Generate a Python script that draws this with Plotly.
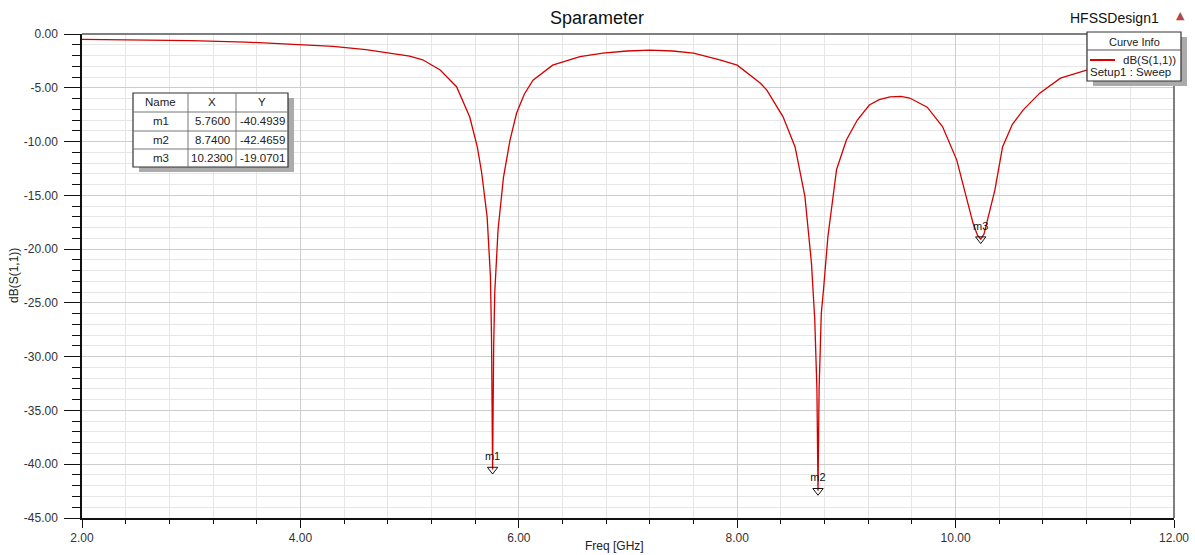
import plotly.graph_objects as go

# ---------------- data ----------------
freq_ghz = [2.00, 2.50, 3.00, 3.50, 4.00, 4.30, 4.60, 4.73, 5.00, 5.12, 5.28, 5.43, 5.55, 5.62,
            5.66, 5.71, 5.74, 5.75, 5.76, 5.77, 5.78, 5.81, 5.86, 5.92, 5.98, 6.05, 6.13, 6.31,
            6.56, 6.77, 6.99, 7.20, 7.41, 7.60, 7.84, 8.00, 8.21, 8.27, 8.42, 8.53, 8.62, 8.68,
            8.71, 8.73, 8.74, 8.75, 8.77, 8.79, 8.83, 8.91, 9.00, 9.10, 9.21, 9.30, 9.40, 9.50,
            9.58, 9.74, 9.88, 10.01, 10.10, 10.16, 10.20, 10.23, 10.26, 10.29, 10.36, 10.43,
            10.52, 10.62, 10.77, 10.96, 11.20, 11.50, 11.80, 12.00]
s11_db = [-0.50, -0.55, -0.62, -0.75, -0.96, -1.15, -1.45, -1.64, -2.05, -2.40, -3.35, -4.90, -7.70, -10.5,
          -12.9, -17.0, -22.5, -28.0, -40.4939, -29.0, -24.0, -18.2, -13.3, -9.85, -7.35, -5.60, -4.30, -2.90,
          -2.10, -1.77, -1.58, -1.49, -1.58, -1.77, -2.40, -2.90, -4.55, -5.20, -7.70, -10.5, -15.1, -21.3,
          -26.5, -33.0, -42.4659, -33.0, -26.0, -23.8, -18.9, -12.6, -9.85, -8.00, -6.60, -6.10, -5.85, -5.80,
          -5.95, -6.80, -8.60, -11.7, -15.1, -17.6, -18.7, -19.0701, -18.6, -17.3, -14.5, -10.5,
          -8.40, -7.05, -5.50, -4.10, -3.35, -2.90, -2.60, -2.50]

marker_names = ["m1", "m2", "m3"]
marker_x = [5.7600, 8.7400, 10.2300]
marker_y = [-40.4939, -42.4659, -19.0701]

x_ticks = [2, 4, 6, 8, 10, 12]
x_ticklabels = ["2.00", "4.00", "6.00", "8.00", "10.00", "12.00"]
y_ticks = [0, -5, -10, -15, -20, -25, -30, -35, -40, -45]
y_ticklabels = ["0.00", "-5.00", "-10.00", "-15.00", "-20.00", "-25.00", "-30.00", "-35.00", "-40.00", "-45.00"]

# ---------------- layout helpers ----------------
W, H = 1195, 555
ML, MR, MT, MB = 82, 21, 34, 37
PW, PH = W - ML - MR, H - MT - MB
FONT = "Liberation Sans, Arial, sans-serif"


def px(p):
    return (p - ML) / PW


def py(p):
    return (H - MB - p) / PH


fig = go.Figure()
fig.add_trace(go.Scatter(x=freq_ghz, y=s11_db, mode="lines",
                         line=dict(color="#d40000", width=1.3), showlegend=False,
                         hoverinfo="skip"))
fig.add_trace(go.Scatter(x=marker_x, y=marker_y, mode="markers+text",
                         text=marker_names, textposition="top center",
                         textfont=dict(family=FONT, size=11, color="#111"),
                         marker=dict(symbol="triangle-down-open", size=9,
                                     color="#111", line=dict(width=1, color="#111")),
                         showlegend=False, hoverinfo="skip"))

shapes = []
annotations = []

# plot frame top/right
shapes.append(dict(type="line", xref="paper", yref="paper", x0=0, x1=1, y0=1, y1=1,
                   line=dict(color="#555", width=1.5)))
shapes.append(dict(type="line", xref="paper", yref="paper", x0=1, x1=1, y0=0, y1=1,
                   line=dict(color="#555", width=1.5)))

# ---------------- marker table ----------------
col_edges = [133, 188, 236, 288]
row_edges = [93, 112, 131, 149, 167]
shapes.append(dict(type="rect", xref="paper", yref="paper",
                   x0=px(col_edges[0] + 6), x1=px(col_edges[-1] + 6),
                   y0=py(row_edges[0] + 5), y1=py(row_edges[-1] + 5),
                   fillcolor="#ababab", line=dict(width=0)))
shapes.append(dict(type="rect", xref="paper", yref="paper",
                   x0=px(col_edges[0]), x1=px(col_edges[-1]),
                   y0=py(row_edges[0]), y1=py(row_edges[-1]),
                   fillcolor="white", line=dict(color="#333", width=1.2)))
for c in col_edges[1:-1]:
    shapes.append(dict(type="line", xref="paper", yref="paper", x0=px(c), x1=px(c),
                       y0=py(row_edges[0]), y1=py(row_edges[-1]),
                       line=dict(color="#777", width=1)))
for r in row_edges[1:-1]:
    shapes.append(dict(type="line", xref="paper", yref="paper", x0=px(col_edges[0]), x1=px(col_edges[-1]),
                       y0=py(r), y1=py(r), line=dict(color="#777", width=1)))

table_rows = [["Name", "X", "Y"]] + [[n, f"{x:.4f}", f"{y:.4f}"]
                                      for n, x, y in zip(marker_names, marker_x, marker_y)]
for ri, row in enumerate(table_rows):
    yc = (row_edges[ri] + row_edges[ri + 1]) / 2
    for ci, txt in enumerate(row):
        xc = (col_edges[ci] + col_edges[ci + 1]) / 2
        annotations.append(dict(xref="paper", yref="paper", x=px(xc), y=py(yc),
                                text=txt, showarrow=False, xanchor="center", yanchor="middle",
                                font=dict(family=FONT, size=11.5, color="#222")))

# ---------------- curve info box ----------------
lx0, lx1, ly0, ly1 = 1087, 1181, 32, 81
shapes.append(dict(type="rect", xref="paper", yref="paper",
                   x0=px(lx0 + 6), x1=px(lx1 + 6), y0=py(ly0 + 5), y1=py(ly1 + 5),
                   fillcolor="#ababab", line=dict(width=0)))
shapes.append(dict(type="rect", xref="paper", yref="paper",
                   x0=px(lx0), x1=px(lx1), y0=py(ly0), y1=py(ly1),
                   fillcolor="white", line=dict(color="#333", width=1.2)))
shapes.append(dict(type="line", xref="paper", yref="paper", x0=px(lx0), x1=px(lx1),
                   y0=py(50), y1=py(50), line=dict(color="#555", width=1)))
shapes.append(dict(type="line", xref="paper", yref="paper", x0=px(1090), x1=px(1115),
                   y0=py(60), y1=py(60), line=dict(color="#e00000", width=2)))
annotations.append(dict(xref="paper", yref="paper", x=px(1134), y=py(42), text="Curve Info",
                        showarrow=False, xanchor="center", yanchor="middle",
                        font=dict(family=FONT, size=11, color="#222")))
annotations.append(dict(xref="paper", yref="paper", x=px(1178), y=py(60), text="dB(S(1,1))",
                        showarrow=False, xanchor="right", yanchor="middle",
                        font=dict(family=FONT, size=11.5, color="#222")))
annotations.append(dict(xref="paper", yref="paper", x=px(1088), y=py(72), text="Setup1 : Sweep",
                        showarrow=False, xanchor="left", yanchor="middle",
                        font=dict(family=FONT, size=11.5, color="#222")))

# ---------------- titles ----------------
annotations.append(dict(xref="paper", yref="paper", x=px(597), y=py(18), text="Sparameter",
                        showarrow=False, xanchor="center", yanchor="middle",
                        font=dict(family=FONT, size=18, color="#111")))
annotations.append(dict(xref="paper", yref="paper", x=px(1114), y=py(18), text="HFSSDesign1",
                        showarrow=False, xanchor="center", yanchor="middle",
                        font=dict(family=FONT, size=14, color="#111")))
annotations.append(dict(xref="paper", yref="paper", x=px(1180), y=py(15), text="▲",
                        showarrow=False, xanchor="center", yanchor="middle",
                        font=dict(family="DejaVu Sans", size=11, color="#b04848")))
annotations.append(dict(xref="paper", yref="paper", x=px(614), y=py(546), text="Freq [GHz]",
                        showarrow=False, xanchor="center", yanchor="middle",
                        font=dict(family=FONT, size=12, color="#222")))
annotations.append(dict(xref="paper", yref="paper", x=px(14), y=py(276), text="dB(S(1,1))",
                        showarrow=False, xanchor="center", yanchor="middle", textangle=-90,
                        font=dict(family=FONT, size=12, color="#222")))

tickfont = dict(family=FONT, size=12, color="#333")
fig.update_layout(
    width=W, height=H,
    margin=dict(l=ML, r=MR, t=MT, b=MB, autoexpand=False),
    paper_bgcolor="white", plot_bgcolor="white",
    showlegend=False,
    shapes=shapes, annotations=annotations,
    xaxis=dict(range=[2, 12], tickmode="array", tickvals=x_ticks, ticktext=x_ticklabels,
               ticks="outside", ticklen=8, tickwidth=1.2, tickcolor="#111",
               showline=True, linecolor="#111", linewidth=1.5,
               showgrid=True, gridcolor="#cdcdcd", gridwidth=1, zeroline=False,
               tickfont=tickfont,
               minor=dict(tickmode="linear", tick0=2, dtick=0.4, ticks="outside", ticklen=4,
                          tickcolor="#111", showgrid=True, gridcolor="#e6e6e6", gridwidth=1)),
    yaxis=dict(range=[-45, 0], tickmode="array", tickvals=y_ticks, ticktext=y_ticklabels,
               ticks="outside", ticklen=16, tickwidth=1.2, tickcolor="#111",
               ticklabelstandoff=4,
               showline=True, linecolor="#111", linewidth=1.5,
               showgrid=True, gridcolor="#cdcdcd", gridwidth=1, zeroline=False,
               tickfont=tickfont,
               minor=dict(tickmode="linear", tick0=0, dtick=1, ticks="outside", ticklen=8,
                          tickcolor="#111", showgrid=True, gridcolor="#e6e6e6", gridwidth=1)),
)

fig.write_html("out.html", config={"displayModeBar": False},
               post_script="document.body.style.margin='0px';document.body.style.overflow='hidden';")
